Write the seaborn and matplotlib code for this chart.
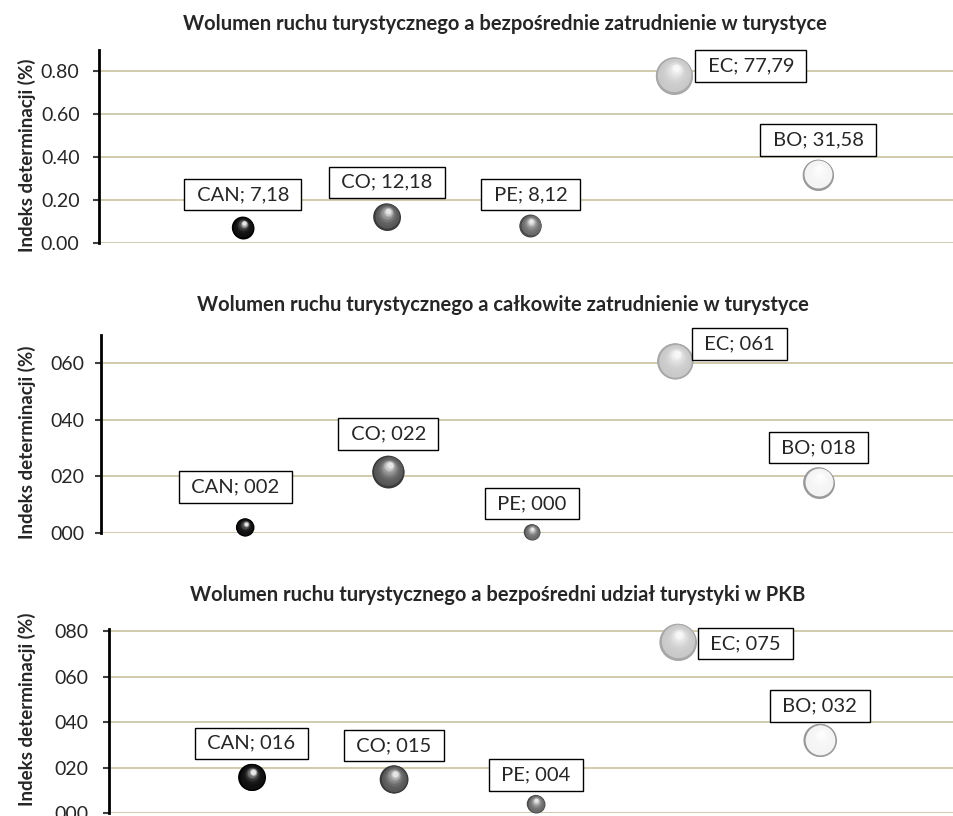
import numpy as np
import pandas as pd
import matplotlib
matplotlib.use('Agg')
import matplotlib.pyplot as plt
import matplotlib.transforms as mtransforms
from matplotlib.colors import to_rgb
from matplotlib.ticker import FuncFormatter
import seaborn as sns

# dane: indeks determinacji dla krajów (0-1) i wielkość bąbla
kraje = ['CAN', 'CO', 'PE', 'EC', 'BO']

r2_zatr_bezp = [0.0718, 0.1218, 0.0812, 0.7779, 0.3158]
r2_zatr_calk = [0.020, 0.217, 0.003, 0.607, 0.178]
r2_pkb = [0.157, 0.148, 0.040, 0.752, 0.320]

etykiety_1 = ['CAN; 7,18', 'CO; 12,18', 'PE; 8,12', 'EC; 77,79', 'BO; 31,58']
etykiety_2 = ['CAN; 002', 'CO; 022', 'PE; 000', 'EC; 061', 'BO; 018']
etykiety_3 = ['CAN; 016', 'CO; 015', 'PE; 004', 'EC; 075', 'BO; 032']

# średnica bąbla (px)
babel_1 = [22, 27, 22, 37, 31]
babel_2 = [18, 32, 16, 36, 31]
babel_3 = [27, 28, 18, 37, 33]

tytuly = [
    'Wolumen ruchu turystycznego a bezpośrednie zatrudnienie w turystyce',
    'Wolumen ruchu turystycznego a całkowite zatrudnienie w turystyce',
    'Wolumen ruchu turystycznego a bezpośredni udział turystyki w PKB',
]

# styl
kolory = {'CAN': '#101010', 'CO': '#575757', 'PE': '#6a6a6a', 'EC': '#c9c9c9', 'BO': '#f4f4f4'}
obwodki = {'CAN': '#000000', 'CO': '#3a3a3a', 'PE': '#4a4a4a', 'EC': '#a8a8a8', 'BO': '#9a9a9a'}
siatka = '#C4BD97'

sns.set_style('white')
plt.rcParams['font.family'] = ['Lato', 'DejaVu Sans']

W, H = 954, 816
fig = plt.figure(figsize=(W / 100, H / 100), dpi=100)


def mieszaj(c1, c2, t):
    a, b = np.array(to_rgb(c1)), np.array(to_rgb(c2))
    return tuple(a + (b - a) * t)


def kula(ax, x, y, d, kraj):
    # prosta imitacja cieniowanej kuli warstwami kółek
    n = 12
    for i in range(n):
        t = i / (n - 1)
        dd = d * (1.0 - 0.8 * t)
        dy = d * 0.2 * t
        dx = d * 0.04 * t
        if kraj in ('CAN',):
            c = mieszaj(kolory[kraj], '#ffffff', 0.9 * t ** 4)
        else:
            c = mieszaj(kolory[kraj], '#ffffff', 0.85 * t ** 2.5)
        if i == 0:
            c = obwodki[kraj]
            dd = d
            dx = dy = 0
        elif i == 1:
            c = kolory[kraj]
            dd = d * 0.9
            dy = d * 0.02
        tr = mtransforms.offset_copy(ax.transData, fig=fig, x=dx, y=dy, units='dots')
        ax.scatter([x], [y], s=(dd * 0.72) ** 2, color=c, lw=0, transform=tr,
                   zorder=3 + i * 0.01, clip_on=False)


panele = [
    dict(y=r2_zatr_bezp, lab=etykiety_1, d=babel_1, rect=(99, 49.5, 243), ylim=0.9,
         ticks=[0, 0.2, 0.4, 0.6, 0.8], fmt=lambda v, p: f'{v:.2f}', pad=10,
         off=[(0, 34.5), (0, 36), (0, 32.5), (76.5, 11.5), (0, 36.5)],
         tpos=(505, 24), ypos=155),
    dict(y=r2_zatr_calk, lab=etykiety_2, d=babel_2, rect=(101.5, 335, 533), ylim=0.7,
         ticks=[0, 0.2, 0.4, 0.6], fmt=lambda v, p: f'{v * 100:03.0f}', pad=8,
         off=[(-9.5, 42), (0, 39), (0, 30), (64, 19), (0, 36.5)],
         tpos=(503, 305), ypos=442),
    dict(y=r2_pkb, lab=etykiety_3, d=babel_3, rect=(109.5, 629, 813), ylim=0.81,
         ticks=[0, 0.2, 0.4, 0.6, 0.8], fmt=lambda v, p: f'{v * 100:03.0f}', pad=11,
         off=[(0, 35.5), (0, 35.5), (0, 30.5), (67.5, 0), (0, 36)],
         tpos=(498, 595), ypos=709),
]

for k, p in enumerate(panele):
    left, top, bottom = p['rect']
    ax = fig.add_axes([left / W, 1 - bottom / H, (962 - left) / W, (bottom - top) / H])
    df = pd.DataFrame({'kraj': kraje, 'x': np.arange(1, len(kraje) + 1), 'r2': p['y'], 'd': p['d']})

    # bazowe bąble przez seaborn
    sns.scatterplot(data=df, x='x', y='r2', hue='kraj', palette=obwodki, s=(df['d'] * 0.72) ** 2,
                    linewidth=0, legend=False, ax=ax, zorder=3, clip_on=False)
    for _, r in df.iterrows():
        kula(ax, r['x'], r['r2'], r['d'], r['kraj'])
        i = int(r['x']) - 1
        ax.annotate(' ' + p['lab'][i] + ' ', (r['x'], r['r2']), xytext=p['off'][i],
                    textcoords='offset pixels', ha='center', va='center_baseline',
                    fontsize=14.5, zorder=6,
                    bbox=dict(boxstyle='square,pad=0.36', fc='white', ec='black', lw=1.0))

    ax.set_xlim(0, 6)
    ax.set_ylim(0, p['ylim'])
    ax.set_yticks(p['ticks'])
    ax.yaxis.set_major_formatter(FuncFormatter(p['fmt']))
    ax.set_xticks([])
    ax.set_xlabel('')
    ax.set_ylabel('')
    ax.yaxis.grid(True, color=siatka, lw=1.1)
    ax.set_axisbelow(True)
    for s in ['top', 'right', 'bottom']:
        ax.spines[s].set_visible(False)
    ax.spines['left'].set_color('black')
    ax.spines['left'].set_linewidth(2)
    ax.tick_params(axis='y', left=True, length=4, width=1.5, color='#404040', labelsize=14,
                   pad=p['pad'])

    fig.text(p['tpos'][0] / W, 1 - p['tpos'][1] / H, tytuly[k], ha='center', va='center',
             fontsize=14.5, fontweight='bold')
    fig.text(27 / W, 1 - p['ypos'] / H, 'Indeks determinacji (%)', rotation=90, ha='center',
             va='center', fontsize=13.5, fontweight='bold')

fig.savefig('out.png', dpi=100)
